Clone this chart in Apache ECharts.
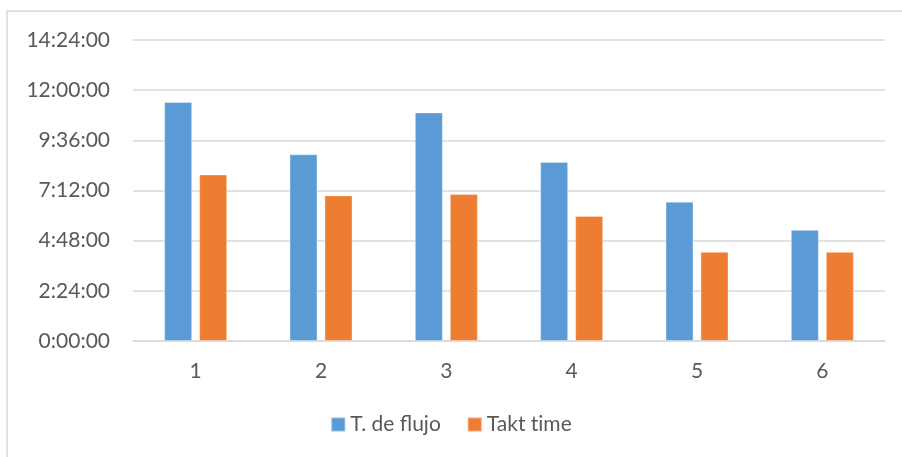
<!DOCTYPE html>
<html>
<head>
<meta charset="utf-8">
<script src="https://cdn.jsdelivr.net/npm/echarts@6/dist/echarts.min.js"></script>
<style>
  html, body { margin: 0; padding: 0; background: #ffffff; }
  #chart { width: 902px; height: 457px; }
</style>
</head>
<body>
<div id="chart"></div>
<script>
// Categories (order number) and durations as h:mm:ss
const categories = ['1', '2', '3', '4', '5', '6'];
const flowTime = ['11:26:00', '8:56:00', '10:56:00', '8:34:00', '6:40:00', '5:19:00'];
const taktTime = ['7:58:00', '6:58:00', '7:02:00', '5:59:00', '4:16:00', '4:16:00'];
const seriesNames = ['T. de flujo', 'Takt time'];

// Value axis: 0:00:00 to 14:24:00 in steps of 2:24:00 (seconds)
const axisMin = 0;
const axisMax = 51840;
const axisStep = 8640;

function toSeconds(s) {
  const p = s.split(':').map(Number);
  return p[0] * 3600 + p[1] * 60 + (p[2] || 0);
}
function toClock(sec) {
  const h = Math.floor(sec / 3600);
  const m = Math.floor((sec % 3600) / 60);
  const s = Math.round(sec % 60);
  return h + ':' + String(m).padStart(2, '0') + ':' + String(s).padStart(2, '0');
}
// Keep the font from joining "ti" into a ligature
const noLigature = s => s.replace(/ti/g, 't\u200Ci');

const FONT = 'Lato, "Open Sans", sans-serif';
const TEXT = '#595959';
const GRID = '#D9D9D9';
const FS = 21;

const chart = echarts.init(document.getElementById('chart'), null, { renderer: 'canvas' });
chart.setOption({
  animation: false,
  backgroundColor: '#ffffff',
  textStyle: { fontFamily: FONT },
  graphic: [{
    type: 'rect',
    shape: { x: 7, y: 11, width: 1200, height: 1200 },
    style: { fill: 'none', stroke: GRID, lineWidth: 1.5 },
    silent: true,
    z: -1
  }],
  grid: { left: 133, right: 17, top: 40, bottom: 116 },
  legend: {
    bottom: 17,
    left: 'center',
    itemWidth: 14,
    itemHeight: 14,
    itemGap: 26,
    icon: 'rect',
    formatter: noLigature,
    textStyle: { color: TEXT, fontSize: FS, fontFamily: FONT },
    data: seriesNames
  },
  xAxis: {
    type: 'category',
    data: categories,
    axisLine: { lineStyle: { color: GRID, width: 1.5 } },
    axisTick: { show: false },
    axisLabel: { color: TEXT, fontSize: FS, fontFamily: FONT, margin: 20 }
  },
  yAxis: {
    type: 'value',
    min: axisMin,
    max: axisMax,
    interval: axisStep,
    axisLine: { show: false },
    axisTick: { show: false },
    splitLine: { lineStyle: { color: GRID, width: 1.5 } },
    axisLabel: { color: TEXT, fontSize: FS, fontFamily: FONT, margin: 23, formatter: v => toClock(v) }
  },
  series: [
    {
      name: seriesNames[0],
      type: 'bar',
      data: flowTime.map(toSeconds),
      barWidth: 28,
      barGap: '25%',
      itemStyle: { color: '#5B9BD5', borderColor: 'rgba(255,255,255,0.35)', borderWidth: 1 }
    },
    {
      name: seriesNames[1],
      type: 'bar',
      data: taktTime.map(toSeconds),
      barWidth: 28,
      itemStyle: { color: '#ED7D31', borderColor: 'rgba(255,255,255,0.35)', borderWidth: 1 }
    }
  ]
});
</script>
</body>
</html>
